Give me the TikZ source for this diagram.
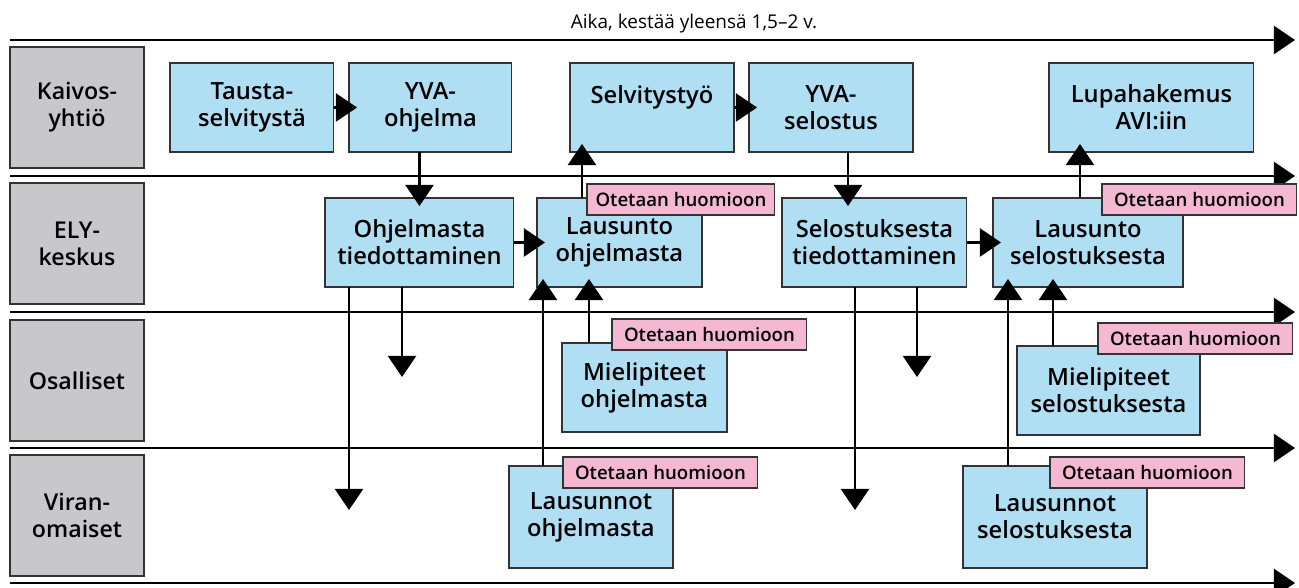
\documentclass[tikz,border=0pt]{standalone}
\usepackage{fontspec}
\setmainfont{Open Sans}
\newfontfamily\semi{Open Sans Semibold}
\usetikzlibrary{arrows.meta}
\definecolor{lanegray}{HTML}{C8C8CA}
\definecolor{actblue}{HTML}{B0DEF3}
\definecolor{notepink}{HTML}{F4B8D2}

\begin{document}
\begin{tikzpicture}[x=0.02cm,y=-0.02cm,
  lane/.style={draw=black!80,fill=lanegray,line width=0.6pt,anchor=north west,inner sep=0pt,outer sep=0pt,
    minimum width=2.68cm,minimum height=2.42cm,align=center,font=\semi\fontsize{13.2}{15.3}\selectfont},
  act/.style={draw=black!80,fill=actblue,line width=0.6pt,anchor=north west,inner sep=0pt,outer sep=0pt,
    minimum height=1.78cm,align=center,font=\semi\fontsize{13.5}{15.3}\selectfont},
  note/.style={draw=black!80,fill=notepink,line width=0.6pt,anchor=north west,inner sep=0pt,outer sep=0pt,
    minimum width=3.9cm,minimum height=0.62cm,font=\semi\fontsize{10.6}{12.5}\selectfont},
  tip/.style={line width=1.2pt,-{Triangle[width=16pt,length=12pt]}},
  flow/.style={tip,shorten >=-0.16cm}]
\useasboundingbox (0,0) rectangle (1299,588);

\node[font=\fontsize{10.8}{13}\selectfont] (aika) at (694,24) {Aika, kestää yleensä 1,5–2 v.};
\draw[tip] (10,40) -- (1295,40);
\draw[tip] (10,176) -- (1295,176);
\draw[tip] (10,312) -- (1295,312);
\draw[tip] (10,448) -- (1295,448);
\draw[tip] (10,583) -- (1295,583);

\node[lane] (kaiv) at (10,47) {Kaivos-\\yhtiö};
\node[lane] (ely) at (10,183) {ELY-\\keskus};
\node[lane] (osal) at (10,320) {Osalliset};
\node[lane] (vira) at (10,455) {Viran-\\omaiset};

\node[act,minimum width=3.28cm] (taus) at (170,63) {Tausta-\\selvitystä};
\node[act,minimum width=3.26cm] (yvao) at (349,63) {YVA-\\ohjelma};
\node[act,minimum width=3.28cm] (selv) at (570,63) {Selvitystyö\\\mbox{}};
\node[act,minimum width=3.28cm] (yvas) at (749,63) {YVA-\\selostus};
\node[act,minimum width=4.1cm] (lupa) at (1049,63) {Lupahakemus\\AVI:iin};

\node[act,minimum width=3.78cm] (ohjt) at (325,198) {Ohjelmasta\\tiedottaminen};
\node[act,minimum width=3.3cm] (lauo) at (537,198) {Lausunto\\ohjelmasta};
\node[act,minimum width=3.7cm] (selt) at (782,198) {Selostuksesta\\tiedottaminen};
\node[act,minimum width=3.8cm] (laus) at (993,198) {Lausunto\\selostuksesta};

\node[act,minimum width=3.3cm] (mieo) at (562,343) {Mielipiteet\\ohjelmasta};
\node[act,minimum width=3.66cm] (mies) at (1017,346) {Mielipiteet\\selostuksesta};

\node[act,minimum width=3.28cm,minimum height=2.04cm] (lnto) at (509,466) {Lausunnot\\ohjelmasta};
\node[act,minimum width=3.68cm,minimum height=2.04cm] (lnts) at (963,466) {Lausunnot\\selostuksesta};

\node[note,minimum width=3.76cm] (n1) at (587,184) {Otetaan huomioon};
\node[note] (n2) at (1102,184) {Otetaan huomioon};
\node[note] (n3) at (612,319) {Otetaan huomioon};
\node[note] (n4) at (1098,323) {Otetaan huomioon};
\node[note] (n5) at (563,457) {Otetaan huomioon};
\node[note] (n6) at (1050,457) {Otetaan huomioon};

\coordinate (d1) at (349,510);
\coordinate (d2) at (402,377);
\coordinate (d3) at (855,510);
\coordinate (d4) at (917,377);

\draw[flow] (taus.east) -- (yvao.west);
\draw[flow] (selv.east) -- (yvas.west);
\draw[flow] (yvao.south -| ohjt.north) -- (ohjt.north);
\draw[flow] (ohjt.east) -- (lauo.west);
\draw[flow] ([xshift=0.9cm]lauo.north west) -- ([xshift=0.9cm]lauo.north west |- selv.south);
\draw[flow] ([xshift=1.98cm]yvas.south west) -- ([xshift=1.98cm]yvas.south west |- selt.north);
\draw[flow] (selt.east) -- (laus.west);
\draw[flow] ([xshift=1.74cm]laus.north west) -- ([xshift=1.74cm]laus.north west |- lupa.south);
\draw[tip] (d1 |- ohjt.south) -- (d1);
\draw[tip] (d2 |- ohjt.south) -- (d2);
\draw[tip] (d3 |- selt.south) -- (d3);
\draw[tip] (d4 |- selt.south) -- (d4);
\draw[flow] ([xshift=0.68cm]lnto.north west) -- ([xshift=0.68cm]lnto.north west |- lauo.south);
\draw[flow] ([xshift=0.54cm]mieo.north west) -- ([xshift=0.54cm]mieo.north west |- lauo.south);
\draw[flow] ([xshift=0.9cm]lnts.north west) -- ([xshift=0.9cm]lnts.north west |- laus.south);
\draw[flow] ([xshift=0.72cm]mies.north west) -- ([xshift=0.72cm]mies.north west |- laus.south);
\end{tikzpicture}
\end{document}
